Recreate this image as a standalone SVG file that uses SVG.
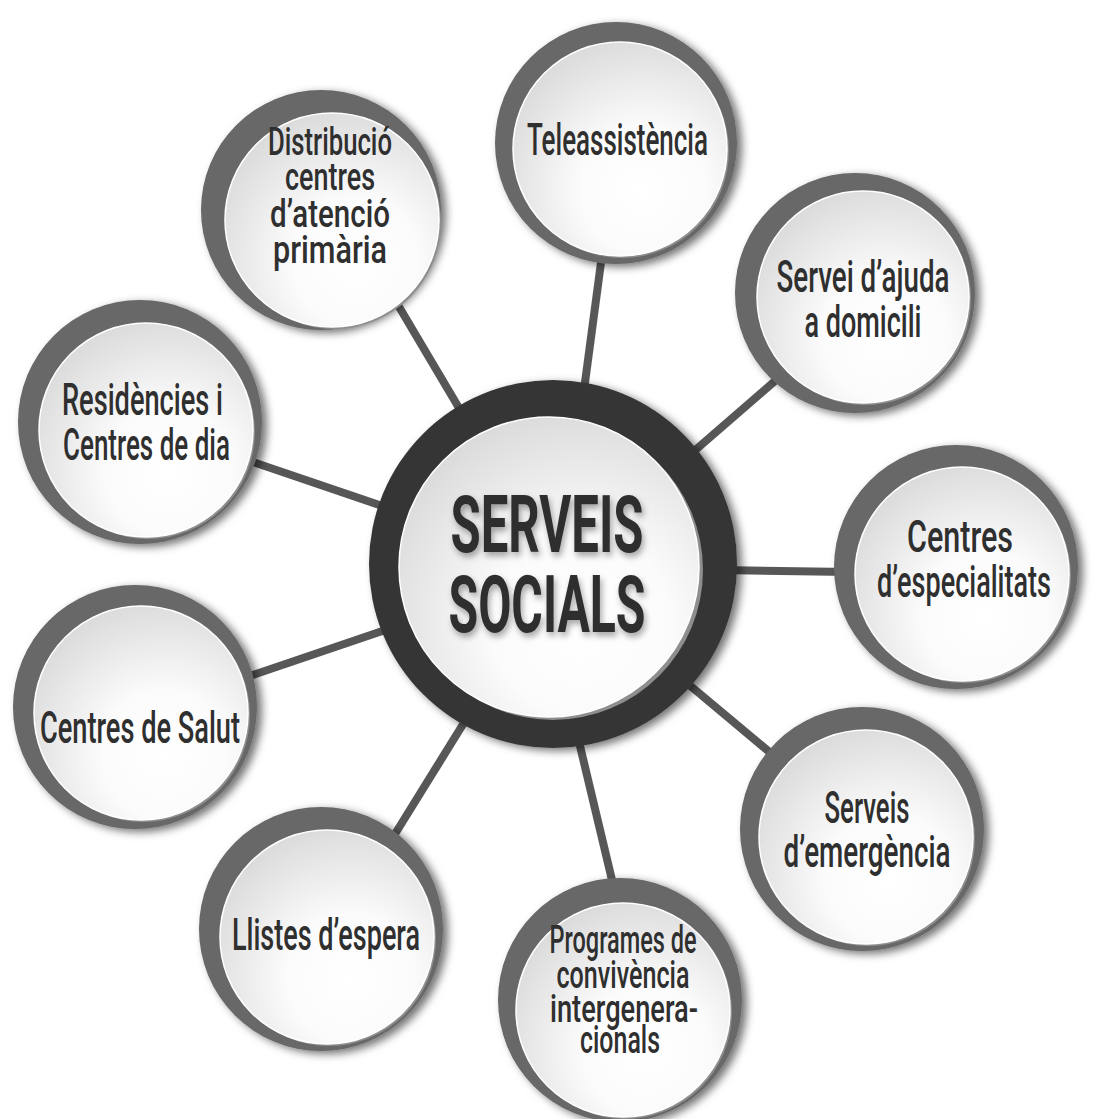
<svg xmlns="http://www.w3.org/2000/svg" width="1102" height="1119" viewBox="0 0 1102 1119">
<style>
.ring{fill:#676767;filter:url(#sh)}
.bev{fill:#8e8e8e}
.face{fill:url(#fg);stroke:#ffffff;stroke-width:1.5}
.lbl{font-family:Roboto,"Liberation Sans",sans-serif;font-weight:500;fill:#2f2f2f;text-anchor:middle;font-size:45px}
.sm{font-size:39px}
.big{font-size:80px;font-weight:700;filter:url(#tsh)}
.con line{stroke:#575757;stroke-width:8}
</style>
<defs>
<filter id="sh" x="-20%" y="-20%" width="140%" height="140%">
<feDropShadow dx="5" dy="3" stdDeviation="4" flood-color="#000" flood-opacity="0.55"/>
</filter>
<filter id="tsh" x="-10%" y="-20%" width="120%" height="150%">
<feDropShadow dx="2" dy="4" stdDeviation="3" flood-color="#000" flood-opacity="0.35"/>
</filter>
<radialGradient id="fg" cx="0.62" cy="0.68" r="0.75" fx="0.6" fy="0.7">
<stop offset="0" stop-color="#ffffff"/>
<stop offset="0.4" stop-color="#fbfbfb"/>
<stop offset="1" stop-color="#d8d8d8"/>
</radialGradient>
</defs>
<rect width="1102" height="1119" fill="#ffffff"/>
<g class="con" id="connectors">
<line x1="604" y1="240" x2="580" y2="420"/>
<line x1="790" y1="368" x2="670" y2="472"/>
<line x1="395" y1="300" x2="475" y2="435"/>
<line x1="250" y1="461" x2="400" y2="512"/>
<line x1="250" y1="676" x2="400" y2="625"/>
<line x1="720" y1="570" x2="850" y2="572"/>
<line x1="675" y1="673" x2="785" y2="765"/>
<line x1="470" y1="713" x2="395" y2="834"/>
<line x1="575" y1="725" x2="612" y2="880"/>
</g>
<g id="n-tele">
<circle class="ring" cx="616" cy="143" r="121"/>
<circle class="bev" cx="622" cy="151" r="107"/>
<circle class="face" cx="620" cy="149" r="107"/>
<text class="lbl" x="617.5" y="155" textLength="181" lengthAdjust="spacingAndGlyphs">Teleassistència</text>
</g>
<g id="n-distr">
<circle class="ring" cx="321" cy="210" r="120"/>
<circle class="bev" cx="334" cy="222" r="107"/>
<circle class="face" cx="332" cy="220" r="107"/>
<text class="lbl sm" x="330" y="155" textLength="124" lengthAdjust="spacingAndGlyphs">Distribució</text>
<text class="lbl sm" x="330" y="190" textLength="90" lengthAdjust="spacingAndGlyphs">centres</text>
<text class="lbl sm" x="330" y="227" textLength="120" lengthAdjust="spacingAndGlyphs">d’atenció</text>
<text class="lbl sm" x="330" y="263" textLength="114" lengthAdjust="spacingAndGlyphs">primària</text>
</g>
<g id="n-servei">
<circle class="ring" cx="855" cy="293" r="120"/>
<circle class="bev" cx="865" cy="299" r="106"/>
<circle class="face" cx="863" cy="297" r="106"/>
<text class="lbl" x="863" y="292" textLength="173" lengthAdjust="spacingAndGlyphs">Servei d’ajuda</text>
<text class="lbl" x="863" y="337" textLength="117" lengthAdjust="spacingAndGlyphs">a domicili</text>
</g>
<g id="n-resid">
<circle class="ring" cx="140" cy="422" r="122"/>
<circle class="bev" cx="148" cy="432" r="107"/>
<circle class="face" cx="146" cy="430" r="107"/>
<text class="lbl" x="142.5" y="415" textLength="161" lengthAdjust="spacingAndGlyphs">Residències i</text>
<text class="lbl" x="146.5" y="460" textLength="167" lengthAdjust="spacingAndGlyphs">Centres de dia</text>
</g>
<g id="n-espec">
<circle class="ring" cx="956" cy="567" r="122"/>
<circle class="bev" cx="964" cy="576" r="107"/>
<circle class="face" cx="962" cy="574" r="107"/>
<text class="lbl" x="960" y="552" textLength="106" lengthAdjust="spacingAndGlyphs">Centres</text>
<text class="lbl" x="964" y="597" textLength="174" lengthAdjust="spacingAndGlyphs">d’especialitats</text>
</g>
<g id="n-salut">
<circle class="ring" cx="135" cy="707" r="122"/>
<circle class="bev" cx="143" cy="715" r="107"/>
<circle class="face" cx="141" cy="713" r="107"/>
<text class="lbl" x="140" y="743" textLength="200" lengthAdjust="spacingAndGlyphs">Centres de Salut</text>
</g>
<g id="n-emerg">
<circle class="ring" cx="862" cy="829" r="122"/>
<circle class="bev" cx="868" cy="839" r="107"/>
<circle class="face" cx="866" cy="837" r="107"/>
<text class="lbl" x="867" y="823" textLength="85" lengthAdjust="spacingAndGlyphs">Serveis</text>
<text class="lbl" x="867" y="867" textLength="167" lengthAdjust="spacingAndGlyphs">d’emergència</text>
</g>
<g id="n-llistes">
<circle class="ring" cx="321" cy="929" r="122"/>
<circle class="bev" cx="329" cy="939" r="107"/>
<circle class="face" cx="327" cy="937" r="107"/>
<text class="lbl" x="326" y="950" textLength="188" lengthAdjust="spacingAndGlyphs">Llistes d’espera</text>
</g>
<g id="n-progr">
<circle class="ring" cx="620" cy="1000" r="122"/>
<circle class="bev" cx="625" cy="1012" r="107"/>
<circle class="face" cx="623" cy="1010" r="107"/>
<text class="lbl sm" x="623" y="953" textLength="147" lengthAdjust="spacingAndGlyphs">Programes de</text>
<text class="lbl sm" x="623" y="988" textLength="133" lengthAdjust="spacingAndGlyphs">convivència</text>
<text class="lbl sm" x="624" y="1022" textLength="148" lengthAdjust="spacingAndGlyphs">intergenera-</text>
<text class="lbl sm" x="620" y="1053" textLength="80" lengthAdjust="spacingAndGlyphs">cionals</text>
</g>
<g id="n-center">
<circle cx="553" cy="564" r="184" fill="#363636" filter="url(#sh)"/>
<circle cx="553" cy="570" r="150" fill="#8e8e8e"/>
<circle cx="549" cy="567" r="150" fill="url(#fg)" stroke="#ffffff" stroke-width="1.5"/>
<text class="lbl big" x="547" y="552" textLength="193" lengthAdjust="spacingAndGlyphs">SERVEIS</text>
<text class="lbl big" x="547" y="632" textLength="197" lengthAdjust="spacingAndGlyphs">SOCIALS</text>
</g>
</svg>
